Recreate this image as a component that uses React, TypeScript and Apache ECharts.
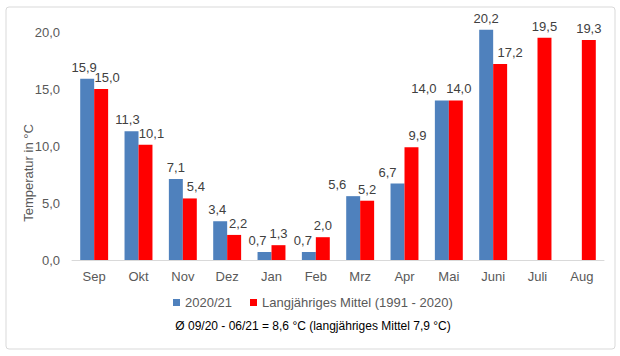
import React, { useEffect, useRef } from "react";
import * as echarts from "echarts";

const categories = ["Sep", "Okt", "Nov", "Dez", "Jan", "Feb", "Mrz", "Apr", "Mai", "Juni", "Juli", "Aug"];
const season2021: (number | null)[] = [15.9, 11.3, 7.1, 3.4, 0.7, 0.7, 5.6, 6.7, 14.0, 20.2, null, null];
const longTermMean: number[] = [15.0, 10.1, 5.4, 2.2, 1.3, 2.0, 5.2, 9.9, 14.0, 17.2, 19.5, 19.3];
const seriesNames = ["2020/21", "Langjähriges Mittel (1991 - 2020)"];
const yAxisTitle = "Temperatur in °C";
const footnote = "Ø 09/20 - 06/21 = 8,6 °C (langjähriges Mittel 7,9 °C)";

// horizontal nudges of the value labels (layout only, as in the original)
const blueLabelDx = [-3, -4, 0, -3, -7, -6, -16, -10, -18, 0, 0, 0];
const redLabelDx = [6, 6, 6, 4, 0, 0, 0, 6, 3, 10, 0, 0];

const fmt = (v: number) => v.toFixed(1).replace(".", ",");
const FONT = "Liberation Sans, Arial, sans-serif";

export default function App() {
  const ref = useRef<HTMLDivElement>(null);
  useEffect(() => {
    if (!ref.current) return;
    const chart = echarts.init(ref.current, undefined, { renderer: "svg" });
    const labelCfg = {
      show: true,
      position: "top" as const,
      distance: 5,
      color: "#404040",
      fontSize: 13,
      fontFamily: FONT,
      formatter: (p: any) => (p.value == null ? "" : fmt(p.value)),
    };
    chart.setOption({
      animation: false,
      textStyle: { fontFamily: FONT },
      graphic: [
        {
          type: "rect",
          shape: { x: 6, y: 7, width: 609, height: 342, r: 3 },
          style: { fill: "#fff", stroke: "#d9d9d9", lineWidth: 1 },
          z: -10,
        },
        {
          type: "text",
          x: 28,
          y: 173,
          rotation: Math.PI / 2,
          style: {
            text: yAxisTitle,
            fill: "#595959",
            font: "13px " + FONT,
            textAlign: "center",
            textVerticalAlign: "middle",
          },
        },
        {
          type: "text",
          x: 313,
          y: 326,
          style: {
            text: footnote,
            fill: "#000",
            font: "12px " + FONT,
            textAlign: "center",
            textVerticalAlign: "middle",
          },
        },
      ],
      legend: {
        data: seriesNames,
        top: 291,
        left: 168,
        itemWidth: 7,
        itemHeight: 7,
        itemGap: 18,
        icon: "rect",
        textStyle: { color: "#595959", fontSize: 13, fontFamily: FONT },
      },
      grid: { left: 72, right: 16, top: 32, height: 228 },
      xAxis: {
        type: "category",
        data: categories,
        axisLine: { lineStyle: { color: "#d9d9d9", width: 1 } },
        axisTick: { show: false },
        axisLabel: { color: "#595959", fontSize: 13, fontFamily: FONT, margin: 10 },
      },
      yAxis: {
        type: "value",
        min: 0,
        max: 20,
        interval: 5,
        axisLine: { show: false },
        axisTick: { show: false },
        splitLine: { show: false },
        axisLabel: { color: "#595959", fontSize: 13, fontFamily: FONT, margin: 12, formatter: (v: number) => fmt(v) },
      },
      series: [
        {
          name: seriesNames[0],
          type: "bar",
          data: season2021.map((v, i) => ({ value: v, label: { offset: [blueLabelDx[i], 0] } })),
          barGap: "0%",
          barCategoryGap: "37%",
          clip: false,
          itemStyle: { color: "#4F81BD" },
          label: labelCfg,
        },
        {
          name: seriesNames[1],
          type: "bar",
          data: longTermMean.map((v, i) => ({ value: v, label: { offset: [redLabelDx[i], 0] } })),
          clip: false,
          itemStyle: { color: "#FF0000" },
          label: labelCfg,
        },
      ],
    });
    return () => chart.dispose();
  }, []);
  return (
    <div
      ref={ref}
      style={{ position: "fixed", left: 0, top: 0, width: 620, height: 356, background: "#fff" }}
    />
  );
}
